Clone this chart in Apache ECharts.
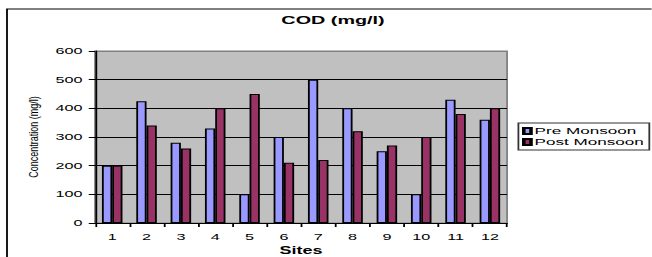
<!DOCTYPE html>
<html>
<head>
<meta charset="utf-8">
<script src="https://cdn.jsdelivr.net/npm/echarts@6/dist/echarts.min.js"></script>
<style>
html,body{margin:0;padding:0;background:#fff;overflow:hidden;width:652px;height:257px;}
#wrap{width:652px;height:257px;overflow:hidden;position:relative;}
#chart{width:362px;height:257px;transform:scaleX(1.8);transform-origin:0 0;}
</style>
</head>
<body>
<div id="wrap"><div id="chart"></div></div>
<script>
const sites = ['1','2','3','4','5','6','7','8','9','10','11','12'];
const preMonsoon = [200, 425, 280, 330, 100, 300, 500, 400, 250, 100, 430, 360];
const postMonsoon = [200, 340, 260, 400, 450, 210, 220, 320, 270, 300, 380, 400];
const yTicks = [0, 100, 200, 300, 400, 500, 600];
const titleText = 'COD (mg/l)';
const yName = 'Concentration (mg/l)';
const xName = 'Sites';
const seriesNames = ['Pre Monsoon', 'Post Monsoon'];

const S = 1.8; // horizontal stretch of the reference picture
const font = "'Liberation Sans', Arial, sans-serif";
const chart = echarts.init(document.getElementById('chart'), null, {renderer: 'svg'});
chart.setOption({
  animation: false,
  backgroundColor: '#ffffff',
  textStyle: {fontFamily: font, color: '#000'},
  title: {
    text: titleText, left: 185, top: 15, padding: 0, textAlign: 'center',
    textStyle: {fontFamily: font, fontSize: 11, fontWeight: 'bold', color: '#000'}
  },
  legend: {
    orient: 'vertical', left: 288, top: 123, padding: [3, 3, 3, 2],
    itemWidth: 4, itemHeight: 6, itemGap: 1, icon: 'rect',
    backgroundColor: '#fff', borderColor: '#333', borderWidth: 1, borderRadius: 0,
    textStyle: {fontFamily: font, fontSize: 9.5, color: '#000', padding: [0, 0, 0, -3]},
    data: seriesNames
  },
  grid: {
    left: 52.8, right: 362 - 281.7, top: 51, bottom: 34,
    show: true, backgroundColor: '#C0C0C0', borderColor: '#808080', borderWidth: 1,
    containLabel: false, outerBoundsMode: 'none'
  },
  xAxis: {
    type: 'category', data: sites,
    name: xName, nameLocation: 'middle', nameGap: 23,
    nameTextStyle: {fontFamily: font, fontSize: 10, fontWeight: 'bold', color: '#000'},
    axisLine: {show: true, lineStyle: {color: '#000', width: 1}},
    axisTick: {show: true, length: 4, alignWithLabel: false, interval: 0, lineStyle: {color: '#000'}},
    axisLabel: {fontFamily: font, fontSize: 9, color: '#000', margin: 9, interval: 0},
    splitLine: {show: false}
  },
  yAxis: {
    type: 'value', min: yTicks[0], max: yTicks[yTicks.length - 1], interval: yTicks[1] - yTicks[0],
    axisLine: {show: true, lineStyle: {color: '#000', width: 1}},
    axisTick: {show: true, length: 3.5, inside: false, lineStyle: {color: '#000'}},
    axisLabel: {fontFamily: font, fontSize: 9, color: '#000', margin: 7},
    splitLine: {show: true, lineStyle: {color: ['#000', '#000', '#000', '#000', '#000', '#000', '#808080'], width: 1}}
  },
  graphic: [
    {
      type: 'rect', silent: true, z: -10,
      shape: {x: 7 / S, y: 9, width: 600, height: 400},
      style: {fill: 'none', stroke: '#000', lineWidth: 1}
    },
    {
      type: 'text', silent: true,
      x: 33 / S, y: 137, rotation: Math.PI / 2, scaleY: 1 / 1.3,
      style: {
        text: yName, fontFamily: font, fontSize: 9, fill: '#000',
        align: 'center', verticalAlign: 'middle', textAlign: 'center', textVerticalAlign: 'middle'
      }
    }
  ],
  series: [
    {
      name: seriesNames[0], type: 'bar', data: preMonsoon,
      barWidth: 5.7, barGap: '0%',
      itemStyle: {color: '#9999FF', borderColor: '#000', borderWidth: 1}
    },
    {
      name: seriesNames[1], type: 'bar', data: postMonsoon,
      barWidth: 5.7, barGap: '0%',
      itemStyle: {color: '#993366', borderColor: '#000', borderWidth: 1}
    }
  ]
});
</script>
</body>
</html>
